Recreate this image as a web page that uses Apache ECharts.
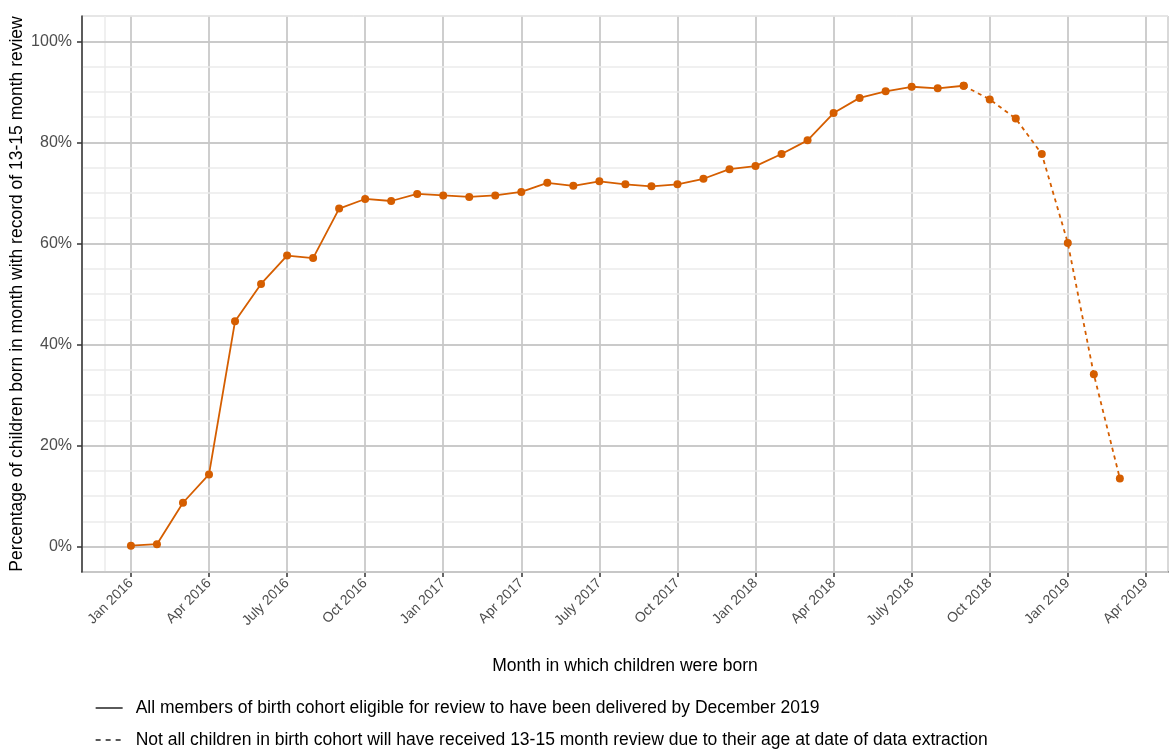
<!DOCTYPE html>
<html>
<head>
<meta charset="utf-8">
<script src="https://cdn.jsdelivr.net/npm/echarts@6/dist/echarts.min.js"></script>
<style>html,body{margin:0;padding:0;background:#fff}#c{width:1170px;height:749px}</style>
</head>
<body>
<div id="c"></div>
<script>
// Month index 0 = Jan 2016
const months = ['Jan 2016','Feb 2016','Mar 2016','Apr 2016','May 2016','Jun 2016','Jul 2016','Aug 2016','Sep 2016','Oct 2016','Nov 2016','Dec 2016',
  'Jan 2017','Feb 2017','Mar 2017','Apr 2017','May 2017','Jun 2017','Jul 2017','Aug 2017','Sep 2017','Oct 2017','Nov 2017','Dec 2017',
  'Jan 2018','Feb 2018','Mar 2018','Apr 2018','May 2018','Jun 2018','Jul 2018','Aug 2018','Sep 2018','Oct 2018','Nov 2018','Dec 2018',
  'Jan 2019','Feb 2019','Mar 2019'];
const pct = [0.2,0.5,8.7,14.3,44.6,52.0,57.6,57.1,66.9,68.8,68.4,69.8,
  69.5,69.2,69.5,70.2,72.0,71.4,72.3,71.7,71.3,71.7,72.8,74.7,
  75.3,77.7,80.4,85.8,88.8,90.1,91.0,90.7,91.2,88.5,84.7,77.7,
  60.1,34.1,13.5];
const completeUntil = 32; // Sep 2018: last month with full cohort eligibility
const xTickValues = [0,3,6,9,12,15,18,21,24,27,30,33,36,39];
const xTickLabels = ['Jan 2016','Apr 2016','July 2016','Oct 2016','Jan 2017','Apr 2017','July 2017','Oct 2017','Jan 2018','Apr 2018','July 2018','Oct 2018','Jan 2019','Apr 2019'];
const yTickValues = [0,20,40,60,80,100];
const legendNames = ['All members of birth cohort eligible for review to have been delivered by December 2019',
  'Not all children in birth cohort will have received 13-15 month review due to their age at date of data extraction'];

const solidData = [], dashedData = [];
pct.forEach((v,i)=>{ if(i<=completeUntil) solidData.push([i,v]); if(i>=completeUntil) dashedData.push([i,v]); });

const ORANGE = '#D55E00';
const FONT = 'Liberation Sans, Arial, sans-serif';
const chart = echarts.init(document.getElementById('c'), null, {renderer:'canvas'});
chart.setOption({
  animation:false,
  grid:{left:82, right:2, top:16, bottom:177, show:true, borderColor:'#b3b3b3', borderWidth:1, containLabel:false, outerBoundsMode:'none'},
  xAxis:{
    type:'value', min:-1.88, max:39.85,
    name:'Month in which children were born', nameLocation:'middle', nameGap:85, nameMoveOverlap:false,
    nameTextStyle:{fontFamily:FONT, fontSize:17.5, color:'#000'},
    axisLine:{show:true, onZero:false, lineStyle:{color:'#333', width:1.5}},
    axisTick:{show:true, length:5, customValues:xTickValues, lineStyle:{color:'#333', width:1.5}},
    axisLabel:{customValues:xTickValues, rotate:45, margin:9, fontFamily:FONT, fontSize:14, color:'#4d4d4d',
      formatter:(v)=>{const k=xTickValues.indexOf(Math.round(v)); return k>=0?xTickLabels[k]:'';}},
    splitLine:{show:true, lineStyle:{color:'#bebebe', width:1.5}}
  },
  yAxis:[{
    type:'value', min:-5, max:105,
    name:'Percentage of children born in month with record of 13-15 month review', nameLocation:'middle', nameGap:56, nameMoveOverlap:false,
    nameTextStyle:{fontFamily:FONT, fontSize:17.5, color:'#000'},
    axisLine:{show:true, onZero:false, lineStyle:{color:'#333', width:1.5}},
    axisTick:{show:true, length:5, customValues:yTickValues, lineStyle:{color:'#333', width:1.5}},
    axisLabel:{customValues:yTickValues, margin:10, fontFamily:FONT, fontSize:16, color:'#4d4d4d', formatter:(v)=>Math.round(v)+'%'},
    splitLine:{show:true, lineStyle:{color:'#bebebe', width:1.5}},
    z:3
  },{
    type:'value', min:-5, max:105, interval:5, position:'left',
    axisLine:{show:false}, axisTick:{show:false}, axisLabel:{show:false},
    splitLine:{show:true, lineStyle:{color:'#ebebeb', width:1.5}},
    z:1
  }],
  legend:{
    orient:'vertical', left:90, top:694, height:80, itemGap:14, itemWidth:27, itemHeight:19,
    textStyle:{fontFamily:FONT, fontSize:17.5, color:'#000', padding:[0,0,0,8]},
    data:[
      {name:legendNames[0], itemStyle:{opacity:0}, lineStyle:{color:'#000', width:1.3, type:'solid'}},
      {name:legendNames[1], itemStyle:{opacity:0}, lineStyle:{color:'#000', width:1.3, type:[5,5]}}
    ]
  },
  series:[
    {name:legendNames[0], type:'line', data:solidData, yAxisIndex:0, symbol:'circle', symbolSize:8,
     lineStyle:{color:ORANGE, width:1.8}, itemStyle:{color:ORANGE}, z:5,
     markLine:{silent:true, symbol:'none', label:{show:false}, lineStyle:{color:'#ebebeb', width:1.5, type:'solid'}, data:[{xAxis:-1}], z:0}},
    {name:legendNames[1], type:'line', data:dashedData, yAxisIndex:0, symbol:'circle', symbolSize:8,
     lineStyle:{color:ORANGE, width:1.8, type:[4,4]}, itemStyle:{color:ORANGE}, z:5}
  ]
});
</script>
</body>
</html>
